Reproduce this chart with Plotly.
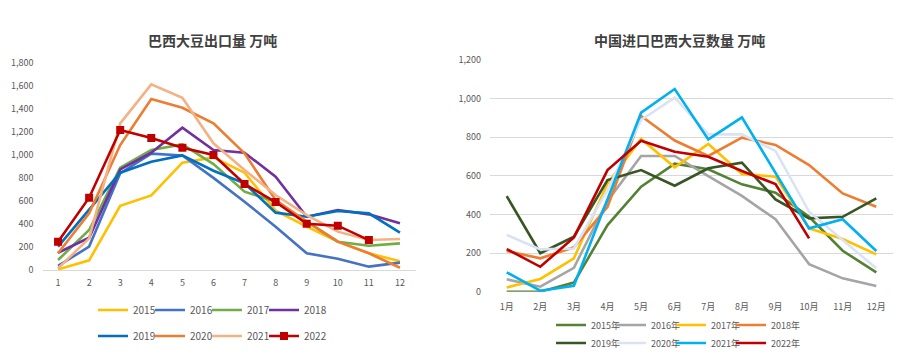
import plotly.graph_objects as go

months = list(range(1, 13))
month_labels = [f"{m}月" for m in months]

# Left chart: Brazil soybean exports (万吨)
left_names = ["2015", "2016", "2017", "2018", "2019", "2020", "2021", "2022"]
left_colors = ["#FFC000", "#4472C4", "#70AD47", "#7030A0", "#0070C0", "#ED7D31", "#F4B183", "#C00000"]
br_2015 = [5, 84, 558, 648, 932, 978, 845, 515, 376, 246, 145, 75]
br_2016 = [35, 203, 840, 1010, 995, 800, 593, 376, 145, 98, 29, 64]
br_2017 = [87, 347, 888, 1042, 1091, 920, 680, 593, 420, 246, 211, 231]
br_2018 = [150, 280, 874, 1019, 1236, 1042, 1019, 810, 463, 521, 483, 405]
br_2019 = [203, 521, 845, 940, 995, 862, 752, 498, 463, 512, 492, 324]
br_2020 = [145, 492, 1085, 1484, 1409, 1273, 1013, 608, 420, 246, 145, 20]
br_2021 = [14, 275, 1273, 1612, 1496, 1100, 868, 651, 477, 333, 260, 269]
br_2022 = [246, 628, 1215, 1146, 1062, 998, 747, 590, 402, 385, 260]
left_series = [br_2015, br_2016, br_2017, br_2018, br_2019, br_2020, br_2021, br_2022]

# Right chart: China imports of Brazilian soybeans (万吨)
right_names = ["2015年", "2016年", "2017年", "2018年", "2019年", "2020年", "2021年", "2022年"]
right_colors = ["#548235", "#A5A5A5", "#FFC000", "#ED7D31", "#375623", "#DAE3F3", "#00B0F0", "#C00000"]
cn_2015 = [0, 0, 47, 345, 544, 663, 634, 556, 513, 388, 212, 100]
cn_2016 = [64, 26, 124, 470, 703, 703, 599, 496, 375, 143, 69, 29]
cn_2017 = [22, 66, 173, 560, 791, 644, 765, 610, 596, 328, 273, 193]
cn_2018 = [211, 173, 230, 440, 910, 783, 703, 798, 760, 656, 509, 440]
cn_2019 = [495, 199, 285, 578, 630, 549, 639, 668, 478, 380, 388, 483]
cn_2020 = [294, 219, 224, 527, 890, 1005, 815, 815, 729, 414, 268, 121]
cn_2021 = [100, 5, 31, 480, 927, 1050, 789, 903, 613, 328, 375, 211]
cn_2022 = [221, 129, 281, 630, 782, 725, 699, 625, 558, 276]
right_series = [cn_2015, cn_2016, cn_2017, cn_2018, cn_2019, cn_2020, cn_2021, cn_2022]

fig = go.Figure()

def spacer(xa, ya, legend_id):
    # invisible trailing legend entry so the last visible label is not clipped
    fig.add_trace(go.Scatter(x=[None], y=[None], name="\u3000", mode="lines",
                             line=dict(color="rgba(0,0,0,0)", width=0),
                             xaxis=xa, yaxis=ya, legend=legend_id, hoverinfo="skip"))

for i, (name, color, vals) in enumerate(zip(left_names, left_colors, left_series)):
    is22 = name == "2022"
    fig.add_trace(go.Scatter(
        x=months[:len(vals)], y=vals, name=name,
        mode="lines+markers" if is22 else "lines",
        line=dict(color=color, width=2.6),
        marker=dict(symbol="square", size=8, color=color) if is22 else None,
        xaxis="x", yaxis="y",
        legend="legend" if i < 4 else "legend2",
    ))
    if i in (3, 7):
        spacer("x", "y", "legend" if i < 4 else "legend2")

for i, (name, color, vals) in enumerate(zip(right_names, right_colors, right_series)):
    fig.add_trace(go.Scatter(
        x=months[:len(vals)], y=vals, name=name, mode="lines",
        line=dict(color=color, width=2.6),
        xaxis="x2", yaxis="y2",
        legend="legend3" if i < 4 else "legend4",
    ))
    if i in (3, 7):
        spacer("x2", "y2", "legend3" if i < 4 else "legend4")

W, H = 906, 362
tickfont = dict(family="Noto Sans CJK SC, Noto Sans, sans-serif", size=9, color="#595959")
legfont = dict(family="Noto Sans CJK SC, Noto Sans, sans-serif", size=10, color="#595959")

def leg(x, y, ew, size=10):
    return dict(orientation="h", x=x, y=y, xanchor="left", yanchor="middle",
                font=dict(legfont, size=size), bgcolor="rgba(0,0,0,0)", entrywidth=ew,
                entrywidthmode="pixels", tracegroupgap=0, itemwidth=30)

fig.update_layout(
    width=W, height=H,
    margin=dict(l=0, r=0, t=0, b=0, autoexpand=False),
    paper_bgcolor="white", plot_bgcolor="white",
    font=dict(family="Noto Sans CJK SC, Noto Sans, sans-serif"),
    xaxis=dict(domain=[42.5 / W, 415.5 / W], range=[0.5, 12.5], tickmode="array",
               tickvals=months, ticktext=[str(m) for m in months], showgrid=False,
               showline=True, linecolor="#D9D9D9", linewidth=1, ticks="",
               tickfont=tickfont, zeroline=False, automargin=False, ticklabelstandoff=4),
    yaxis=dict(domain=[1 - 270 / H, 1 - 62.7 / H], range=[0, 1800], dtick=200,
               tickformat=",", showgrid=False, zeroline=False, ticks="",
               tickfont=tickfont, anchor="x", automargin=False, ticklabelstandoff=8),
    xaxis2=dict(domain=[489.9 / W, 893.1 / W], range=[0.5, 12.5], tickmode="array",
                tickvals=months, ticktext=month_labels, showgrid=False,
                showline=False, ticks="", tickfont=tickfont, zeroline=False,
                anchor="y2", automargin=False, ticklabelstandoff=8),
    yaxis2=dict(domain=[1 - 291.7 / H, 1 - 60 / H], range=[0, 1200], dtick=200,
                tickformat=",", showgrid=True, gridcolor="#D9D9D9", gridwidth=1,
                zeroline=False, ticks="", tickfont=tickfont, anchor="x2", automargin=False,
                ticklabelstandoff=8),
    legend=leg(93 / W, 1 - 310 / H, 12),
    legend2=leg(93 / W, 1 - 336 / H, 12),
    legend3=leg(551 / W, 1 - 325 / H, 15, 9),
    legend4=leg(551 / W, 1 - 343 / H, 15, 9),
    annotations=[
        dict(text="<b>巴西大豆出口量 万吨</b>", x=212 / W, y=1 - 40 / H, xref="paper", yref="paper",
             showarrow=False, xanchor="center", yanchor="middle",
             font=dict(family="Noto Sans CJK SC", size=14, color="#404040")),
        dict(text="<b>中国进口巴西大豆数量 万吨</b>", x=679 / W, y=1 - 40 / H, xref="paper", yref="paper",
             showarrow=False, xanchor="center", yanchor="middle",
             font=dict(family="Noto Sans CJK SC", size=14, color="#404040")),
    ],
)

fig.write_html("out.html", config={"displayModeBar": False},
               post_script="document.body.style.margin='0';")
